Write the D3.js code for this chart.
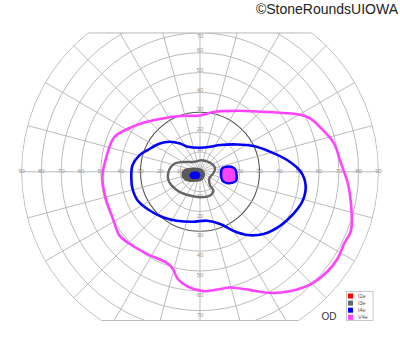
<!DOCTYPE html>
<html>
<head>
<meta charset="utf-8">
<script src="https://cdn.jsdelivr.net/npm/d3@7"></script>
<style>
  body { margin: 0; background: #fff; }
  text { font-family: "Liberation Sans", Arial, sans-serif; }
</style>
</head>
<body>
<div id="chart"></div>
<script>
// grid values (degrees)
var rings = [10, 20, 30, 40, 50, 60, 70, 80, 90];
var meridians = d3.range(0, 360, 15);
var hLabels = [10, 20, 30, 40, 50, 60, 70, 80, 90];
var vLabels = [10, 20, 30, 40, 50, 60, 70];
var topLimit = 70, bottomLimit = 75;

// legend
var legendNames = ["I2e", "I3e", "I4e", "V4e"];
var legendColors = ["#ff0000", "#666666", "#0000ff", "#ff44ff"];

// isopters: [meridian (deg, ccw from right), eccentricity (deg)]
var v4e = [[43.4, 44.0], [35.2, 51.5], [29.5, 58.3], [25.5, 61.9], [19.9, 64.8], [12.1, 69.0],
  [3.5, 71.2], [355.5, 74.8], [348.1, 77.8], [338.7, 81.7], [333.4, 81.2], [328, 82.0],
  [322.2, 81.6], [314.6, 79.5], [307.2, 75.5], [300.2, 70.7], [293, 64.8], [284.6, 60.3],
  [278.3, 60.0], [271.5, 60.2], [263.5, 58.0], [258.3, 55.2], [254.4, 50.9], [250, 48.9],
  [237, 49.3], [225.6, 50.8], [218.4, 51.8], [214.2, 51.0], [207.6, 49.8], [195.2, 49.4],
  [183.2, 49.3], [171.1, 47.8], [157.9, 46.6], [148.1, 41.8], [139.6, 38.0], [127.3, 33.5],
  [109.8, 29.9], [90, 28.4], [77.7, 30.9], [60, 35.5]];

var i4e = [[0, 50.8], [7.5, 44.5], [15.8, 36.9], [25.7, 29.9], [36.3, 23.3], [53, 16.9],
  [68, 13.6], [90, 12.1], [115.8, 14.0], [125.3, 17.5], [135.2, 21.5], [144.8, 24.8],
  [157.5, 28.6], [164.6, 31.6], [174.5, 34.2], [185.7, 34.8], [194.1, 35.1], [204.7, 34.6],
  [217.6, 32.0], [230.7, 29.6], [244.6, 27.3], [262, 25.4], [278.2, 24.9], [291.1, 28.2],
  [299.4, 34.1], [306.8, 39.8], [315.6, 44.8], [326.2, 48.8], [335.9, 51.7], [344.4, 53.8],
  [352.7, 53.7]];

var i3e = [[12, 7.8], [26, 7.5], [49.7, 6.5], [81.6, 5.9], [124.4, 6.0], [149.6, 9.8],
  [161.8, 13.4], [173.9, 15.3], [183.2, 16.1], [192.1, 16.5], [205.5, 15.9], [225.3, 14.4],
  [246.9, 13.0], [270, 12.8], [293.1, 13.0], [305.7, 11.6], [306.5, 8.5], [323.8, 5.8],
  [354.8, 6.8]];

var i3eCentral = [[187.9, 9.2], [172.9, 8.2], [160.7, 5.4], [119.7, 2.0], [26.6, 1.7],
  [322.1, 2.9], [284, 4.2], [242.2, 5.4], [214.7, 8.0], [201, 9.2]];

var i4eCentral = [[199.3, 5.4], [184.7, 4.3], [182.3, 2.5], [205, 0.8], [270, 1.8],
  [256.6, 3.3], [233.7, 4.3], [216.5, 5.4]];

var blindSpot = [[9, 11.3], [10.9, 13.4], [9.2, 15.9], [4.1, 17.8], [354.5, 18.6],
  [346.7, 18.8], [341, 17.2], [337.1, 14.3], [338.9, 12], [353.2, 10.7]];

var width = 400, height = 352;
var cx = 200, cy = 171.8;

var svg = d3.select("#chart")
  .append("svg")
    .attr("width", width)
    .attr("height", height);

var r = d3.scaleLinear()
  .domain([0, 90])
  .range([0, 178.5]);

var g = svg.append("g")
  .attr("transform", "translate(" + cx + "," + cy + ")");

// clip the grid to the chart window
var defs = svg.append("defs");
defs.append("clipPath").attr("id", "circ")
  .append("circle").attr("r", r(90) + 0.5);
defs.append("clipPath").attr("id", "band")
  .append("rect")
    .attr("x", -r(90) - 2)
    .attr("y", -r(topLimit))
    .attr("width", 2 * r(90) + 4)
    .attr("height", r(topLimit) + r(bottomLimit));

var grid = g.append("g").attr("clip-path", "url(#band)")
  .append("g").attr("clip-path", "url(#circ)");

grid.selectAll(".ring")
  .data(rings)
  .enter()
  .append("circle")
    .attr("r", function (d) { return r(d); })
    .style("fill", "none")
    .style("stroke", function (d) { return d == 30 ? "#555" : "#b8b8b8"; })
    .style("stroke-width", function (d) { return d == 30 ? 1.1 : 0.95; });

grid.selectAll(".spoke")
  .data(meridians)
  .enter()
  .append("line")
    .attr("x1", 0).attr("y1", 0)
    .attr("x2", function (d) { return r(90) * Math.cos(d * Math.PI / 180); })
    .attr("y2", function (d) { return -r(90) * Math.sin(d * Math.PI / 180); })
    .style("stroke", "#b8b8b8")
    .style("stroke-width", 0.95);

// top and bottom borders
[-r(topLimit), r(bottomLimit)].forEach(function (y) {
  var half = Math.sqrt(r(90) * r(90) - y * y);
  g.append("line")
    .attr("x1", -half).attr("x2", half)
    .attr("y1", y).attr("y2", y)
    .style("stroke", "#b8b8b8")
    .style("stroke-width", 1);
});

// axis labels
hLabels.forEach(function (d) {
  [-1, 1].forEach(function (s) {
    g.append("text")
      .attr("x", s * r(d))
      .attr("y", -1)
      .attr("dy", "0.35em")
      .style("text-anchor", "middle")
      .style("font-size", "6px")
      .style("fill", "#999")
      .text(d);
  });
});
vLabels.forEach(function (d) {
  g.append("text")
    .attr("x", 0)
    .attr("y", d == topLimit ? -r(d) + 3 : -r(d) - 3)
    .attr("dy", "0.35em")
    .style("text-anchor", "middle")
    .style("font-size", "6px")
    .style("fill", "#999")
    .text(d);
  g.append("text")
    .attr("x", 0)
    .attr("y", r(d) + 4)
    .attr("dy", "0.35em")
    .style("text-anchor", "middle")
    .style("font-size", "6px")
    .style("fill", "#999")
    .text(d);
});

var isopter = d3.lineRadial()
  .angle(function (d) { return (90 - d[0]) * Math.PI / 180; })
  .radius(function (d) { return r(d[1]); })
  .curve(d3.curveCatmullRomClosed.alpha(0.5));

g.append("path")
  .datum(v4e)
  .attr("d", isopter)
  .style("fill", "none")
  .style("stroke", "#ff44ff")
  .style("stroke-width", 2.6);

g.append("path")
  .datum(i4e)
  .attr("d", isopter)
  .style("fill", "none")
  .style("stroke", "#0000ff")
  .style("stroke-width", 2.6);

g.append("path")
  .datum(i3e)
  .attr("d", isopter)
  .style("fill", "none")
  .style("stroke", "#666")
  .style("stroke-width", 2.4);

g.append("path")
  .datum(i3eCentral)
  .attr("d", isopter)
  .style("fill", "#5a5a5a")
  .style("stroke", "#5a5a5a")
  .style("stroke-width", 1);

g.append("path")
  .datum(i4eCentral)
  .attr("d", isopter)
  .style("fill", "#0000ff")
  .style("stroke", "#0000ff")
  .style("stroke-width", 1);

g.append("path")
  .datum(blindSpot)
  .attr("d", isopter)
  .style("fill", "#ff44ff")
  .style("stroke", "#0000ff")
  .style("stroke-width", 2.4);

// legend
var legend = svg.append("g")
  .attr("transform", "translate(346.5,291.5)");
legend.append("rect")
  .attr("width", 26.5)
  .attr("height", 29)
  .style("fill", "#fff")
  .style("stroke", "#bbb")
  .style("stroke-width", 0.8);
legend.selectAll(".key")
  .data(legendNames)
  .enter()
  .append("rect")
    .attr("x", 1.5)
    .attr("y", function (d, i) { return 2 + i * 7.1; })
    .attr("width", 5)
    .attr("height", 5)
    .style("fill", function (d, i) { return legendColors[i]; });
legend.selectAll(".lbl")
  .data(legendNames)
  .enter()
  .append("text")
    .attr("x", 11.5)
    .attr("y", function (d, i) { return 4.5 + i * 7.1; })
    .attr("dy", "0.35em")
    .style("font-size", "5.5px")
    .style("fill", "#555")
    .text(function (d) { return d; });

svg.append("text")
  .attr("x", 321.5)
  .attr("y", 320)
  .style("font-size", "10px")
  .style("fill", "#333")
  .text("OD");

svg.append("text")
  .attr("x", 398)
  .attr("y", 13.5)
  .style("text-anchor", "end")
  .style("font-size", "14px")
  .style("fill", "#222")
  .text("\u00a9StoneRoundsUIOWA");
</script>
</body>
</html>
